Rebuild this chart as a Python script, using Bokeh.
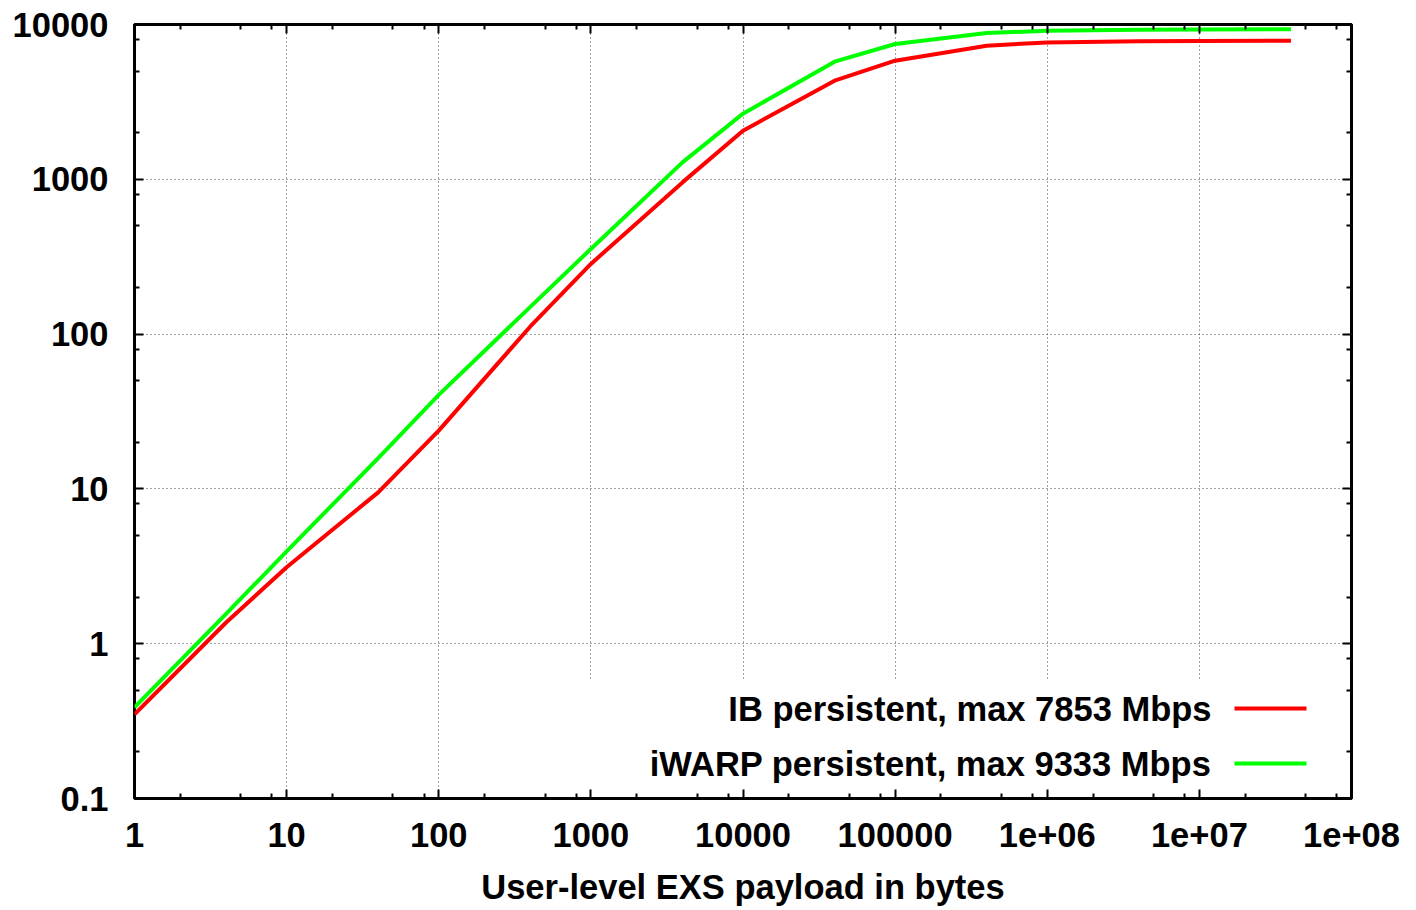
from bokeh.plotting import figure
from bokeh.models import LogAxis, FixedTicker, Label, BoxAnnotation
from bokeh.embed import file_html
from bokeh.resources import INLINE

# ---- data ----
payload_bytes = [1, 4, 10, 40, 100, 400, 1000, 4000, 10000, 40000, 100000,
                 400000, 1000000, 4000000, 10000000, 40000000]
ib_mbps = [0.35, 1.37, 3.12, 9.5, 23.8, 112, 284, 955, 2060, 4335, 5840,
           7300, 7660, 7790, 7830, 7853]
iwarp_mbps = [0.388, 1.56, 3.95, 15.8, 40.5, 150, 355, 1286, 2654, 5750, 7480,
              8810, 9120, 9260, 9300, 9333]

series_labels = ["IB persistent, max 7853 Mbps", "iWARP persistent, max 9333 Mbps"]
series_colors = ["#ff0000", "#00ff00"]
x_title = "User-level EXS payload in bytes"

x_major = [1, 10, 100, 1000, 10000, 100000, 1000000, 10000000, 100000000]
x_tick_labels = ["1", "10", "100", "1000", "10000", "100000", "1e+06", "1e+07", "1e+08"]
y_major = [0.1, 1, 10, 100, 1000, 10000]
y_tick_labels = ["0.1", "1", "10", "100", "1000", "10000"]
minor_mult = [2, 5, 8]

x_minor = [m * d for d in x_major[:-1] for m in minor_mult]
y_minor = [m * d for d in y_major[:-1] for m in minor_mult]

FONT = "Liberation Sans"
FS = "34.5px"
FSTYLE = "bold"

W, H = 1400, 908
FL, FT = 134, 24
FW, FH = 1217, 774

p = figure(width=W, height=H, x_axis_type="log", y_axis_type="log",
           x_range=(1, 1e8), y_range=(0.1, 1e4),
           output_backend="svg", toolbar_location=None,
           min_border_left=FL, min_border_top=FT,
           min_border_right=W - FL - FW, min_border_bottom=H - FT - FH)
p.background_fill_color = "white"
p.border_fill_color = "white"
p.outline_line_color = "black"
p.outline_line_width = 3

xt = FixedTicker(ticks=x_major, minor_ticks=x_minor)
yt = FixedTicker(ticks=y_major, minor_ticks=y_minor)

def style_axis(ax, ticker, show_labels, overrides=None):
    ax.ticker = ticker
    ax.axis_line_color = None
    ax.major_tick_in = 9
    ax.major_tick_out = 0
    ax.minor_tick_in = 5
    ax.minor_tick_out = 0
    ax.major_tick_line_width = 2
    ax.minor_tick_line_width = 2
    ax.major_tick_line_color = "black"
    ax.minor_tick_line_color = "black"
    if show_labels:
        ax.major_label_text_font = FONT
        ax.major_label_text_font_size = FS
        ax.major_label_text_font_style = FSTYLE
        ax.major_label_text_color = "black"
        ax.major_label_overrides = overrides
    else:
        ax.major_label_text_font_size = "1px"
        ax.major_label_text_color = None
        ax.major_label_standoff = 0

style_axis(p.xaxis[0], xt, True, {v: s for v, s in zip(x_major, x_tick_labels)})
style_axis(p.yaxis[0], yt, True, {v: s for v, s in zip(y_major, y_tick_labels)})
p.xaxis[0].major_label_standoff = 24
p.yaxis[0].major_label_standoff = 26

xa = p.xaxis[0]
xa.axis_label = x_title
xa.axis_label_text_font = FONT
xa.axis_label_text_font_size = FS
xa.axis_label_text_font_style = FSTYLE
xa.axis_label_text_color = "black"
xa.axis_label_standoff = 18

top_ax = LogAxis()
right_ax = LogAxis()
style_axis(top_ax, FixedTicker(ticks=x_major, minor_ticks=x_minor), False)
style_axis(right_ax, FixedTicker(ticks=y_major, minor_ticks=y_minor), False)
p.add_layout(top_ax, "above")
p.add_layout(right_ax, "right")

p.xgrid.ticker = FixedTicker(ticks=x_major)
p.ygrid.ticker = FixedTicker(ticks=y_major)
for g in (p.xgrid[0], p.ygrid[0]):
    g.grid_line_color = "#444444"
    g.grid_line_dash = "1 3"
    g.grid_line_width = 1

# key box (erases grid below it, like gnuplot)
p.add_layout(BoxAnnotation(left=425, right=FW - 2, top=118, bottom=2,
                           left_units="screen", right_units="screen",
                           top_units="screen", bottom_units="screen",
                           fill_color="white", fill_alpha=1.0, line_color=None,
                           level="underlay"))

for vals, col in zip([ib_mbps, iwarp_mbps], series_colors):
    p.line(payload_bytes, vals, line_width=4, line_color=col)

# legend (text left, sample right)
for i, (lab, col) in enumerate(zip(series_labels, series_colors)):
    yy = 90 - 55 * i
    p.add_layout(Label(x=1077, y=yy, x_units="screen", y_units="screen", text=lab,
                       text_font=FONT, text_font_size=FS, text_font_style=FSTYLE,
                       text_align="right", text_baseline="middle", text_color="black"))
    p.add_layout(BoxAnnotation(left=1100, right=1172, bottom=yy - 2, top=yy + 2,
                               left_units="screen", right_units="screen",
                               bottom_units="screen", top_units="screen",
                               fill_color=col, fill_alpha=1.0, line_color=None))

open("out.html", "w").write(file_html(p, INLINE))
